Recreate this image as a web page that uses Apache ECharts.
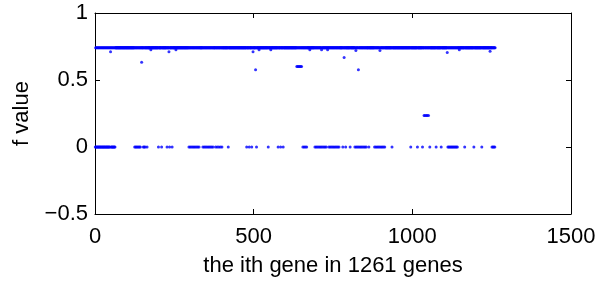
<!DOCTYPE html>
<html>
<head>
<meta charset="utf-8">
<script src="https://cdn.jsdelivr.net/npm/echarts@6/dist/echarts.min.js"></script>
<style>
  html, body { margin: 0; padding: 0; background: #fff; }
  #chart { width: 600px; height: 282px; }
</style>
</head>
<body>
<div id="chart"></div>
<script>
// values
const geneCount = 1261;
const baseLevel = 0.74; // most genes sit on this line
// genes with f = 0: [start, end, step] index ranges (1-based)
const zeroRuns = [
  [1, 64, 2], [125, 145, 3], [152, 158, 3], [164, 164, 1], [200, 200, 1], [210, 210, 1],
  [227, 243, 8], [296, 330, 4], [340, 372, 4], [380, 400, 5], [420, 420, 1],
  [478, 494, 8], [509, 509, 1], [546, 546, 1], [577, 593, 8], [655, 667, 4],
  [693, 772, 4], [781, 781, 1], [790, 790, 1], [804, 804, 1], [819, 856, 4],
  [863, 863, 1], [881, 913, 4], [936, 936, 1], [995, 995, 1], [1016, 1016, 1],
  [1032, 1032, 1], [1055, 1055, 1], [1075, 1075, 1], [1091, 1091, 1],
  [1112, 1144, 3], [1165, 1165, 1], [1194, 1194, 1], [1219, 1219, 1], [1251, 1261, 3]
];
// other genes: [index, f value]
const outliers = [
  [49, 0.71], [147, 0.633], [176, 0.725], [233, 0.71], [255, 0.725], [498, 0.71],
  [506, 0.577], [517, 0.725], [554, 0.725], [636, 0.6], [639, 0.6], [642, 0.6],
  [645, 0.6], [648, 0.6], [651, 0.6], [677, 0.725], [714, 0.725], [733, 0.725],
  [785, 0.667], [822, 0.72], [830, 0.577], [898, 0.72], [1037, 0.236], [1040, 0.236],
  [1044, 0.236], [1047, 0.236], [1051, 0.236], [1110, 0.705], [1148, 0.725], [1245, 0.715]
];
const xTicks = [0, 500, 1000, 1500];
const yTicks = [-0.5, 0, 0.5, 1];

const values = new Array(geneCount + 1).fill(baseLevel);
zeroRuns.forEach(([s, e, st]) => {
  for (let i = s; i <= e; i += st) values[i] = 0;
});
outliers.forEach(([i, v]) => { values[i] = v; });
const points = [];
for (let i = 1; i <= geneCount; i++) points.push([i, values[i]]);

const font = 'Liberation Sans, Arial, Helvetica, sans-serif';
const axisLine = { show: true, onZero: false, lineStyle: { color: '#000', width: 1 } };
const tick = { show: true, inside: true, length: 5, lineStyle: { color: '#000' } };

const chart = echarts.init(document.getElementById('chart'), null, { renderer: 'canvas' });
chart.setOption({
  animation: false,
  grid: { left: 95, right: 29, top: 13, bottom: 62 },
  xAxis: [{
    type: 'value', min: xTicks[0], max: xTicks[xTicks.length - 1], interval: 500,
    axisLine, axisTick: tick, splitLine: { show: false },
    axisLabel: { color: '#000', fontSize: 22, fontFamily: font, margin: 12, formatter: v => String(v) },
    name: 'the ith gene in 1261 genes', nameLocation: 'middle', nameGap: 41,
    nameTextStyle: { color: '#000', fontSize: 22, fontFamily: font }
  }, {
    type: 'value', position: 'top', min: 0, max: 1500, interval: 500,
    axisLine, axisTick: tick, axisLabel: { show: false }, splitLine: { show: false }
  }],
  yAxis: [{
    type: 'value', min: yTicks[0], max: yTicks[yTicks.length - 1], interval: 0.5,
    axisLine, axisTick: tick, splitLine: { show: false },
    axisLabel: {
      color: '#000', fontSize: 22, fontFamily: font, margin: 7,
      formatter: v => String(v).replace('-', '\u2212')
    },
    name: 'f value', nameLocation: 'middle', nameGap: 62,
    nameTextStyle: { color: '#000', fontSize: 22, fontFamily: font }
  }, {
    type: 'value', position: 'right', min: -0.5, max: 1, interval: 0.5,
    axisLine, axisTick: tick, axisLabel: { show: false }, splitLine: { show: false }
  }],
  series: [{
    type: 'scatter',
    data: points,
    symbol: 'circle',
    symbolSize: 3,
    itemStyle: { color: '#0000ff' },
    silent: true
  }]
});
</script>
</body>
</html>
